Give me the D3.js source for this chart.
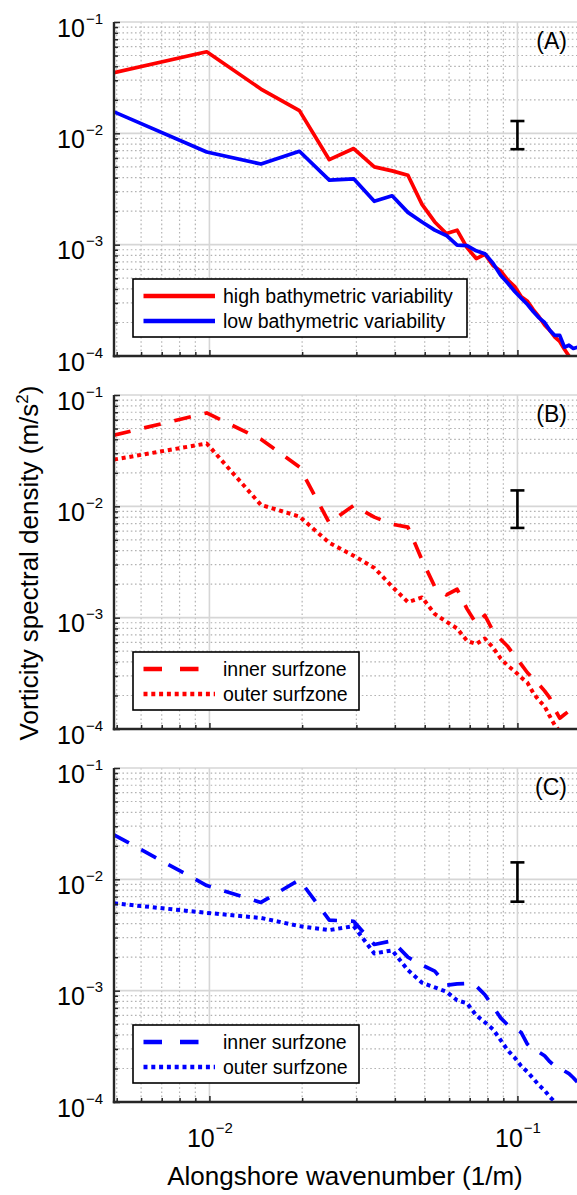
<!DOCTYPE html>
<html>
<head>
<meta charset="utf-8">
<script src="https://cdn.jsdelivr.net/npm/d3@7"></script>
<style>
  body { margin: 0; background: #fff; }
  text { font-family: "Liberation Sans", Arial, Helvetica, sans-serif; fill: #000; }
</style>
</head>
<body>
<svg id="chart"></svg>
<script>
// alongshore wavenumber (1/m), one value per spectral estimate
const wavenumber = [0.0049, 0.0098, 0.0147, 0.0196, 0.0245, 0.0294, 0.0343, 0.0392, 0.0441, 0.0490,
  0.0539, 0.0588, 0.0637, 0.0686, 0.0735, 0.0784, 0.0833, 0.0882, 0.0931, 0.0980,
  0.1029, 0.1078, 0.1127, 0.1176, 0.1225, 0.1274, 0.1323, 0.1372, 0.1421, 0.1470,
  0.1519, 0.1568, 0.1617];

// (A)
const highBathy = [0.035, 0.054, 0.025, 0.016, 0.0058, 0.0073, 0.0050, 0.0046, 0.0042, 0.0023,
  0.0016, 0.00126, 0.00135, 0.00094, 0.00075, 0.00082, 0.00065, 0.00058, 0.00048, 0.00042,
  0.00034, 0.00031, 0.00026, 0.000224, 0.00019, 0.00017, 0.000148, 0.000135, 0.000115, 0.0001,
  0.000095, 0.00009, 0.000085];
const lowBathy = [0.0156, 0.0068, 0.0053, 0.0069, 0.0038, 0.0039, 0.00245, 0.00275, 0.00195, 0.0016,
  0.00135, 0.00121, 0.00099, 0.00098, 0.00088, 0.00083, 0.00068, 0.00053, 0.00045, 0.00038,
  0.00033, 0.00029, 0.00025, 0.00022, 0.0002, 0.00017, 0.000153, 0.000153, 0.00012, 0.000125,
  0.000117, 0.00012, 0.00011];

// (B)
const highInner = [0.0436, 0.069, 0.040, 0.0226, 0.0071, 0.0102, 0.0080, 0.0069, 0.0065, 0.0033,
  0.0019, 0.0016, 0.0018, 0.0012, 0.00088, 0.00105, 0.00076, 0.00064, 0.00055, 0.00045,
  0.00038, 0.00032, 0.00028, 0.00025, 0.00022, 0.00019, 0.00015, 0.000125, 0.000135, 0.000145,
  0.00014, 0.000145, 0.00014];
const highOuter = [0.0263, 0.0367, 0.0103, 0.0081, 0.0047, 0.0036, 0.0028, 0.0019, 0.00138, 0.00152,
  0.00108, 0.00092, 0.0008, 0.00062, 0.00058, 0.00065, 0.00054, 0.00043, 0.00037, 0.00033,
  0.00029, 0.00026, 0.00021, 0.00018, 0.00016, 0.00013, 0.000108, 0.000095, 0.00009, 0.000085,
  0.00008, 0.00008, 0.00008];

// (C)
const lowInner = [0.0251, 0.0088, 0.0062, 0.0099, 0.0043, 0.0042, 0.0026, 0.0028, 0.0020, 0.0017,
  0.0015, 0.00112, 0.00115, 0.00116, 0.0011, 0.00092, 0.00072, 0.00057, 0.00049, 0.00046,
  0.00042, 0.00033, 0.00029, 0.00028, 0.00026, 0.00023, 0.00021, 0.0002, 0.00019, 0.00018,
  0.000165, 0.00015, 0.00014];
const lowOuter = [0.0061, 0.0050, 0.0045, 0.0038, 0.0035, 0.0038, 0.00216, 0.0023, 0.00153, 0.00118,
  0.00107, 0.00098, 0.00082, 0.00077, 0.0006, 0.00052, 0.00045, 0.00036, 0.00029, 0.00025,
  0.00021, 0.000186, 0.000162, 0.000141, 0.000127, 0.000111, 0.0001, 0.00009, 0.000085, 0.00008,
  0.00008, 0.00008, 0.00008];

// confidence interval bars, drawn at k = 0.1
const errorBarK = 0.1;
const errorBars = [[0.0072, 0.0129], [0.0064, 0.0139], [0.0063, 0.0142]];

const panelLabels = ["(A)", "(B)", "(C)"];
const legendNames = [
  ["high bathymetric variability", "low bathymetric variability"],
  ["inner surfzone", "outer surfzone"],
  ["inner surfzone", "outer surfzone"]
];
const yTickExp = [-4, -3, -2, -1];
const xTickExp = [-2, -1];

const RED = "#ff0000", BLUE = "#0000ff";
const DASH = "17,14", DOT = "4,3.8";

const panels = [
  { series: [{ v: highBathy, c: RED, d: null }, { v: lowBathy, c: BLUE, d: null }], legendW: 334 },
  { series: [{ v: highInner, c: RED, d: DASH }, { v: highOuter, c: RED, d: DOT }], legendW: 226 },
  { series: [{ v: lowInner, c: BLUE, d: DASH }, { v: lowOuter, c: BLUE, d: DOT }], legendW: 226 }
];

const W = 577, H = 1195;
const left = 114, plotRight = 580.3, plotH = 334;
const tops = [22, 395, 768];

const svg = d3.select("#chart").attr("width", W).attr("height", H);

const x = d3.scaleLog().domain([0.0049, 0.16]).range([left, plotRight]);
const xMajor = xTickExp.map(e => Math.pow(10, e));
const xMinor = x.ticks().filter(t => !xMajor.some(m => Math.abs(m - t) < 1e-12) && x(t) > left + 1);

function supLabel(sel, exp, supDy) {
  sel.text(null);
  sel.append("tspan").text("10");
  sel.append("tspan").attr("dy", supDy).attr("font-size", 15).attr("dx", 1).text("\u2212" + Math.abs(exp));
}

const lineW = s => s.d === DOT ? 4 : 3.7;

panels.forEach((p, i) => {
  const top = tops[i], bottom = top + plotH;
  const y = d3.scaleLog().domain([1e-4, 1e-1]).range([bottom, top]);
  const yMajor = yTickExp.map(e => Math.pow(10, e));
  const yMinor = y.ticks().filter(t => !yMajor.some(m => Math.abs(m - t) / m < 1e-9));

  const g = svg.append("g");

  g.append("clipPath").attr("id", "clip" + i)
    .append("rect").attr("x", left).attr("y", top).attr("width", plotRight - left).attr("height", plotH);

  // minor grid
  g.append("g").selectAll("line").data(xMinor).enter().append("line")
    .attr("x1", d => x(d)).attr("x2", d => x(d)).attr("y1", top).attr("y2", bottom)
    .attr("stroke", "#b3b3b3").attr("stroke-width", 1.2).attr("stroke-dasharray", "1.6,2.6");
  g.append("g").selectAll("line").data(yMinor).enter().append("line")
    .attr("x1", left).attr("x2", plotRight).attr("y1", d => y(d)).attr("y2", d => y(d))
    .attr("stroke", "#b3b3b3").attr("stroke-width", 1.2).attr("stroke-dasharray", "1.6,2.6");

  // major grid
  g.append("g").selectAll("line").data(xMajor).enter().append("line")
    .attr("x1", d => x(d)).attr("x2", d => x(d)).attr("y1", top).attr("y2", bottom)
    .attr("stroke", "#d6d6d6").attr("stroke-width", 1.6);
  g.append("g").selectAll("line").data(yMajor).enter().append("line")
    .attr("x1", left).attr("x2", plotRight).attr("y1", d => y(d)).attr("y2", d => y(d))
    .attr("stroke", "#d6d6d6").attr("stroke-width", 1.6);

  // series
  const line = d3.line().x((d, j) => x(wavenumber[j])).y(d => y(d));
  p.series.forEach(s => {
    g.append("path").datum(s.v)
      .attr("clip-path", `url(#clip${i})`)
      .attr("d", line)
      .attr("fill", "none")
      .attr("stroke", s.c)
      .attr("stroke-width", lineW(s))
      .attr("stroke-linejoin", "round")
      .attr("stroke-dasharray", s.d);
  });

  // error bar
  const eb = errorBars[i], ex = x(errorBarK);
  const ebg = g.append("g").attr("stroke", "#000").attr("stroke-width", 2.6);
  ebg.append("line").attr("x1", ex).attr("x2", ex).attr("y1", y(eb[0])).attr("y2", y(eb[1]));
  ebg.append("line").attr("x1", ex - 7).attr("x2", ex + 7).attr("y1", y(eb[0])).attr("y2", y(eb[0]));
  ebg.append("line").attr("x1", ex - 7).attr("x2", ex + 7).attr("y1", y(eb[1])).attr("y2", y(eb[1]));

  // axes: minor ticks
  g.append("g").attr("transform", `translate(${left},0)`)
    .call(d3.axisLeft(y).tickValues(yMinor).tickSize(-4).tickSizeOuter(0).tickFormat(""))
    .call(a => a.select(".domain").remove())
    .selectAll("line").attr("stroke", "#262626").attr("stroke-width", 1.5);
  g.append("g").attr("transform", `translate(0,${bottom})`)
    .call(d3.axisBottom(x).tickValues(xMinor).tickSize(-4).tickSizeOuter(0).tickFormat(""))
    .call(a => a.select(".domain").remove())
    .selectAll("line").attr("stroke", "#262626").attr("stroke-width", 1.5);

  // axes: major ticks + labels
  const yAx = g.append("g").attr("transform", `translate(${left},0)`)
    .call(d3.axisLeft(y).tickValues(yMajor).tickSize(-6).tickSizeOuter(0).tickPadding(11));
  yAx.select(".domain").remove();
  yAx.selectAll("line").attr("stroke", "#262626").attr("stroke-width", 1.5);
  yAx.selectAll(".tick text")
    .attr("font-size", 25).attr("font-family", null).attr("dy", 14).attr("fill", "#1a1a1a")
    .each(function (d) { supLabel(d3.select(this), Math.round(Math.log10(d)), -13); });

  const xAx = g.append("g").attr("transform", `translate(0,${bottom})`)
    .call(d3.axisBottom(x).tickValues(xMajor).tickSize(-6).tickSizeOuter(0));
  xAx.select(".domain").remove();
  xAx.selectAll("line").attr("stroke", "#262626").attr("stroke-width", 1.5);
  if (i === 2) {
    xAx.selectAll(".tick text")
      .attr("font-size", 25).attr("font-family", null).attr("y", 45).attr("dy", 0).attr("fill", "#1a1a1a")
      .each(function (d) { supLabel(d3.select(this), Math.round(Math.log10(d)), -14); });
  } else {
    xAx.selectAll(".tick text").remove();
  }

  // axis lines
  g.append("line").attr("x1", left).attr("x2", left).attr("y1", top).attr("y2", bottom + 1.2)
    .attr("stroke", "#262626").attr("stroke-width", 2.4);
  g.append("line").attr("x1", left - 1.2).attr("x2", plotRight).attr("y1", bottom).attr("y2", bottom)
    .attr("stroke", "#262626").attr("stroke-width", 2.4);

  // panel label
  g.append("text").attr("x", 567).attr("y", top + 27).attr("text-anchor", "end")
    .attr("font-size", 23).text(panelLabels[i]);

  // legend
  const lx = 133, ly = top + 257;
  const lg = g.append("g");
  lg.append("rect").attr("x", lx).attr("y", ly).attr("width", p.legendW).attr("height", 58)
    .attr("fill", "#fff").attr("stroke", "#000").attr("stroke-width", 1.6);
  p.series.forEach((s, j) => {
    const yy = ly + 17 + j * 25;
    lg.append("line").attr("x1", 143.5).attr("x2", 215).attr("y1", yy).attr("y2", yy)
      .attr("stroke", s.c).attr("stroke-width", lineW(s) + 0.6)
      .attr("stroke-dasharray", s.d === DASH ? "18.5,18" : s.d);
    lg.append("text").attr("x", 223).attr("y", yy + 6.5).attr("font-size", 19.5).text(legendNames[i][j]);
  });
});

// axis titles
const yTitle = svg.append("text")
  .attr("transform", "translate(38,563) rotate(-90)")
  .attr("text-anchor", "middle").attr("font-size", 26);
yTitle.append("tspan").text("Vorticity spectral density (m/s");
yTitle.append("tspan").attr("font-size", 17).attr("dy", -10).text("2");
yTitle.append("tspan").attr("dy", 10).text(")");

svg.append("text").attr("x", 345).attr("y", 1185).attr("text-anchor", "middle")
  .attr("font-size", 26).text("Alongshore wavenumber (1/m)");
</script>
</body>
</html>
